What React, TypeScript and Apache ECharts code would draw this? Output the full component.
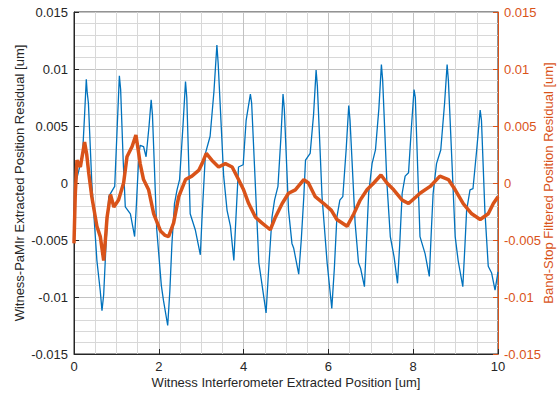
import React, { useEffect, useRef } from "react";
import * as echarts from "echarts";

const blueX = [0.00,0.04,0.12,0.20,0.25,0.29,0.31,0.34,0.42,0.54,0.62,0.66,0.70,0.76,0.82,0.88,0.96,1.02,1.07,1.10,1.16,1.21,1.33,1.43,1.47,1.53,1.56,1.64,1.70,1.77,1.82,1.85,1.95,2.06,2.11,2.21,2.26,2.31,2.37,2.43,2.49,2.57,2.63,2.66,2.74,2.86,2.98,3.02,3.10,3.21,3.30,3.37,3.40,3.53,3.61,3.69,3.77,3.82,3.88,3.99,4.06,4.16,4.19,4.36,4.43,4.53,4.60,4.67,4.73,4.81,4.88,4.93,4.96,5.06,5.14,5.18,5.30,5.36,5.42,5.46,5.57,5.65,5.71,5.74,5.85,5.97,6.08,6.14,6.20,6.27,6.34,6.42,6.48,6.51,6.63,6.71,6.76,6.85,6.90,6.95,7.03,7.11,7.19,7.25,7.28,7.38,7.46,7.55,7.63,7.68,7.74,7.81,7.89,7.96,8.02,8.05,8.16,8.28,8.38,8.43,8.47,8.55,8.65,8.74,8.80,8.83,8.99,9.06,9.17,9.22,9.26,9.34,9.41,9.50,9.58,9.61,9.69,9.77,9.85,9.93,10.00];
const blueY = [-0.0025,0.0000,0.0012,0.0024,0.0060,0.0091,0.0080,0.0070,0.0000,-0.0068,-0.0095,-0.0112,-0.0098,-0.0050,-0.0012,-0.0008,-0.0003,0.0050,0.0094,0.0082,0.0020,-0.0021,-0.0027,-0.0047,-0.0020,0.0025,0.0033,0.0032,0.0023,0.0050,0.0073,0.0060,-0.0040,-0.0090,-0.0103,-0.0125,-0.0095,-0.0053,-0.0018,-0.0006,0.0003,0.0050,0.0089,0.0075,-0.0027,-0.0041,-0.0063,-0.0030,0.0026,0.0041,0.0080,0.0121,0.0105,0.0006,-0.0024,-0.0038,-0.0068,-0.0030,0.0014,0.0016,0.0055,0.0078,0.0070,-0.0070,-0.0088,-0.0114,-0.0070,-0.0030,-0.0015,-0.0003,0.0040,0.0078,0.0065,-0.0024,-0.0053,-0.0057,-0.0080,-0.0050,-0.0012,0.0020,0.0026,0.0060,0.0099,0.0085,-0.0012,-0.0070,-0.0110,-0.0075,-0.0030,-0.0015,-0.0012,0.0030,0.0068,0.0055,-0.0035,-0.0070,-0.0075,-0.0091,-0.0050,-0.0009,0.0017,0.0029,0.0065,0.0104,0.0090,0.0000,-0.0047,-0.0065,-0.0088,-0.0055,-0.0009,0.0006,0.0009,0.0050,0.0082,0.0075,-0.0047,-0.0062,-0.0082,-0.0040,-0.0009,0.0017,0.0029,0.0070,0.0104,0.0090,-0.0047,-0.0068,-0.0091,-0.0055,-0.0024,-0.0006,-0.0005,0.0030,0.0064,0.0055,-0.0024,-0.0073,-0.0079,-0.0094,-0.0078];

const orangeX = [0.00,0.03,0.07,0.15,0.25,0.30,0.35,0.42,0.54,0.62,0.70,0.74,0.78,0.86,0.94,1.05,1.17,1.25,1.37,1.46,1.51,1.56,1.64,1.76,1.88,2.04,2.15,2.23,2.35,2.47,2.63,2.78,2.94,3.02,3.12,3.25,3.41,3.57,3.73,3.88,4.00,4.12,4.28,4.43,4.63,4.75,4.91,5.06,5.22,5.42,5.53,5.69,5.89,6.07,6.20,6.44,6.60,6.75,6.91,7.07,7.24,7.38,7.54,7.74,7.89,8.07,8.16,8.40,8.63,8.83,8.99,9.18,9.38,9.58,9.77,9.89,10.00];
const orangeY = [-0.0053,-0.0010,0.0020,0.0014,0.0036,0.0025,0.0008,-0.0012,-0.0038,-0.0047,-0.0068,-0.0050,-0.0030,-0.0010,-0.0021,-0.0015,0.0000,0.0023,0.0032,0.0042,0.0030,0.0017,0.0003,-0.0006,-0.0027,-0.0042,-0.0046,-0.0047,-0.0035,-0.0012,0.0003,0.0006,0.0011,0.0017,0.0026,0.0020,0.0014,0.0017,0.0014,0.0003,-0.0006,-0.0018,-0.0030,-0.0035,-0.0041,-0.0030,-0.0018,-0.0009,-0.0006,0.0003,0.0000,-0.0012,-0.0018,-0.0024,-0.0032,-0.0038,-0.0027,-0.0015,-0.0006,0.0000,0.0007,0.0000,-0.0006,-0.0015,-0.0018,-0.0012,-0.0009,-0.0003,0.0006,0.0003,-0.0006,-0.0018,-0.0027,-0.0032,-0.0027,-0.0018,-0.0012];

const xName = "Witness Interferometer Extracted Position [um]";
const leftName = "Witness-PaMIr Extracted Position Residual [um]";
const rightName = "Band-Stop Filtered Position Residual [um]";

const BLUE = "#0072BD";
const ORANGE = "#D95319";
const DARK = "#262626";
const FONT = "'Liberation Sans', Arial, sans-serif";

const fmt = (v: number) => String(parseFloat(v.toFixed(4)));

export default function App() {
  const ref = useRef<HTMLDivElement>(null);
  useEffect(() => {
    document.body.style.margin = "0";
    const chart = echarts.init(ref.current!, undefined, { renderer: "svg" });
    const yCommon = {
      type: "value" as const,
      min: -0.015,
      max: 0.015,
      interval: 0.005,
      nameLocation: "middle" as const,
      nameMoveOverlap: false,
    };
    chart.setOption({
      animation: false,
      backgroundColor: "#ffffff",
      textStyle: { fontFamily: FONT },
      grid: {
        left: 74, right: 59, top: 12, bottom: 43,
        outerBoundsMode: "none",
        containLabel: false,
        show: true, borderColor: DARK, borderWidth: 1, backgroundColor: "transparent",
      },
      xAxis: {
        type: "value",
        min: 0,
        max: 10,
        interval: 2,
        name: xName,
        nameLocation: "middle",
        nameGap: 22,
        nameMoveOverlap: false,
        nameTextStyle: { color: DARK, fontSize: 13, fontFamily: FONT },
        axisLine: { onZero: false, lineStyle: { color: DARK } },
        axisTick: { show: true, inside: true, length: 5, lineStyle: { color: DARK } },
        axisLabel: { color: DARK, fontSize: 13, margin: 6, fontFamily: FONT },
        splitLine: { show: true, lineStyle: { color: "#c2c2c2", width: 1 } },
        minorTick: { show: false, splitNumber: 4 },
        minorSplitLine: { show: true, lineStyle: { color: "#d8d8d8", width: 1 } },
      },
      yAxis: [
        {
          ...yCommon,
          position: "left",
          name: leftName,
          nameGap: 48,
          nameTextStyle: { color: DARK, fontSize: 13, fontFamily: FONT },
          axisLine: { show: true, onZero: false, lineStyle: { color: DARK } },
          axisTick: { show: true, inside: true, length: 5, lineStyle: { color: DARK } },
          axisLabel: { color: DARK, fontSize: 13, margin: 6, fontFamily: FONT, formatter: fmt },
          splitLine: { show: true, lineStyle: { color: "#c2c2c2", width: 1 } },
          minorTick: { show: false, splitNumber: 5 },
          minorSplitLine: { show: true, lineStyle: { color: "#d8d8d8", width: 1 } },
        },
        {
          ...yCommon,
          position: "right",
          name: rightName,
          nameGap: 44,
          nameTextStyle: { color: ORANGE, fontSize: 13, fontFamily: FONT },
          axisLine: { show: true, onZero: false, lineStyle: { color: ORANGE } },
          axisTick: { show: true, inside: true, length: 5, lineStyle: { color: ORANGE } },
          axisLabel: { color: ORANGE, fontSize: 13, margin: 6, fontFamily: FONT, formatter: fmt },
          splitLine: { show: false },
        },
      ],
      series: [
        {
          type: "line",
          yAxisIndex: 0,
          data: blueX.map((x, i) => [x, blueY[i]]),
          showSymbol: false,
          lineStyle: { color: BLUE, width: 1.3 },
          z: 3,
        },
        {
          type: "line",
          yAxisIndex: 1,
          data: orangeX.map((x, i) => [x, orangeY[i]]),
          showSymbol: false,
          lineStyle: { color: ORANGE, width: 3.5 },
          z: 4,
        },
      ],
    });
    return () => chart.dispose();
  }, []);
  return <div ref={ref} style={{ width: 557, height: 397, position: "absolute", left: 0, top: 0 }} />;
}
